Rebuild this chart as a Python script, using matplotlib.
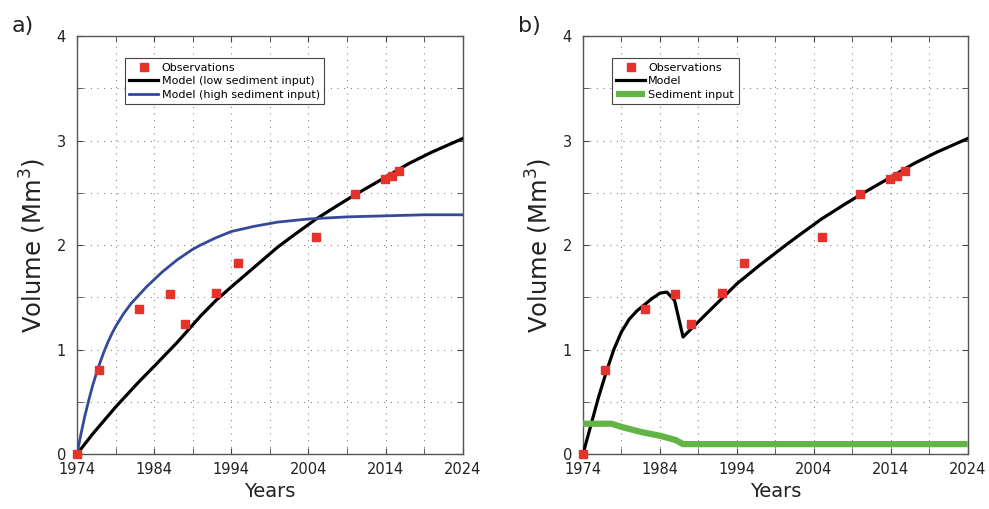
import matplotlib
matplotlib.use('Agg')
import matplotlib.pyplot as plt
from matplotlib.ticker import FixedLocator

plt.rcParams['font.family'] = ['DejaVu Sans']

# observations (both panels)
obs_years = [1974, 1976.9, 1982, 1986, 1988, 1992, 1994.9, 2005, 2010, 2013.9, 2014.8, 2015.8]
obs_vol = [0.0, 0.80, 1.39, 1.53, 1.245, 1.54, 1.83, 2.08, 2.49, 2.63, 2.66, 2.71]

# panel a, model with low sediment input
low_years = [1974, 1976, 1979, 1982, 1984, 1987, 1990, 1992, 1994, 1997, 2000, 2002, 2005, 2008, 2010, 2014, 2017, 2020, 2024]
low_vol = [0.0, 0.19, 0.45, 0.69, 0.84, 1.07, 1.32, 1.47, 1.60, 1.79, 1.98, 2.09, 2.25, 2.39, 2.48, 2.65, 2.78, 2.89, 3.02]

# panel a, model with high sediment input
high_years = [1974, 1974.5, 1975, 1975.5, 1976, 1976.5, 1977, 1977.5, 1978, 1978.5, 1979, 1980, 1981, 1982, 1983,
              1984, 1985, 1986, 1987, 1988, 1989, 1990, 1992, 1994, 1997, 2000, 2004, 2009, 2014, 2019, 2024]
high_vol = [0.0, 0.19, 0.36, 0.51, 0.65, 0.77, 0.88, 0.98, 1.07, 1.15, 1.22, 1.34, 1.44, 1.52, 1.60,
            1.67, 1.74, 1.80, 1.86, 1.91, 1.96, 2.00, 2.07, 2.13, 2.18, 2.22, 2.25, 2.27, 2.28, 2.29, 2.29]

# panel b, model
mod_years = [1974, 1975, 1976, 1977, 1978, 1979, 1980, 1981, 1982, 1983, 1984, 1984.9, 1985.9, 1987,
             1990, 1994, 1997, 2000, 2002, 2005, 2008, 2010, 2014, 2017, 2020, 2024]
mod_vol = [0.0, 0.27, 0.54, 0.78, 1.00, 1.17, 1.29, 1.37, 1.43, 1.49, 1.54, 1.55, 1.47, 1.12,
           1.34, 1.63, 1.81, 1.98, 2.09, 2.25, 2.39, 2.48, 2.65, 2.78, 2.89, 3.02]

# panel b, sediment input
sed_years = [1974, 1977.7, 1979, 1981.6, 1984, 1986, 1987, 1990, 2024]
sed_vol = [0.29, 0.29, 0.26, 0.21, 0.175, 0.135, 0.095, 0.095, 0.095]

major_years = [1974, 1984, 1994, 2004, 2014, 2024]
minor_years = [1979, 1989, 1999, 2009, 2019]

red = '#e5322b'
blue = '#35499b'
green = '#62b445'

fig = plt.figure(figsize=(9.89, 5.09), dpi=100)
ax1 = fig.add_axes([0.0779, 0.108, 0.390, 0.821])
ax2 = fig.add_axes([0.5895, 0.108, 0.389, 0.821])

ax1.plot(low_years, low_vol, color='black', lw=2.3, label='Model (low sediment input)', zorder=3)
ax1.plot(high_years, high_vol, color=blue, lw=2.0, label='Model (high sediment input)', zorder=3)
ax1.plot(obs_years, obs_vol, 's', color=red, ms=6, label='Observations', zorder=4, clip_on=False)

ax2.plot(mod_years, mod_vol, color='black', lw=2.3, label='Model', zorder=3)
ax2.plot(sed_years, sed_vol, color=green, lw=4.5, label='Sediment input', zorder=3, solid_capstyle='butt')
ax2.plot(obs_years, obs_vol, 's', color=red, ms=6, label='Observations', zorder=4, clip_on=False)

for ax, tag in [(ax1, 'a)'), (ax2, 'b)')]:
    ax.set_xlim(1974, 2024)
    ax.set_ylim(0, 4)
    ax.set_xticks(major_years)
    ax.xaxis.set_minor_locator(FixedLocator(minor_years))
    ax.set_yticks([0, 1, 2, 3, 4])
    ax.yaxis.set_minor_locator(FixedLocator([0.5, 1.5, 2.5, 3.5]))
    ax.grid(True, which='both', linestyle=(0, (1, 5)), color='#888888', lw=0.8)
    ax.tick_params(which='both', direction='in', top=True, right=True, length=4,
                   color='#444444', labelsize=10.5, labelcolor='#222222')
    ax.tick_params(axis='y', pad=8)
    ax.tick_params(axis='x', pad=6)
    for s in ax.spines.values():
        s.set_color('#555555')
        s.set_linewidth(1.0)
    ax.set_xlabel('Years', fontsize=14, color='#222222', labelpad=3)
    ax.set_ylabel('Volume (Mm$^3$)', fontsize=17.5, color='#222222', labelpad=6)
    ax.text(-0.17, 1.0, tag, transform=ax.transAxes, fontsize=16, va='bottom', ha='left', color='#222222')
    h, l = ax.get_legend_handles_labels()
    order = [2, 0, 1]
    leg = ax.legend([h[i] for i in order], [l[i] for i in order], loc='upper left',
                    bbox_to_anchor=(0.11 if ax is ax1 else 0.06, 0.96), fontsize=8,
                    fancybox=False, edgecolor='#444444', framealpha=1, handlelength=2.6,
                    handletextpad=0.3, borderpad=0.4, labelspacing=0.3)
    leg.get_frame().set_linewidth(0.8)

fig.savefig('out.png', dpi=100)
